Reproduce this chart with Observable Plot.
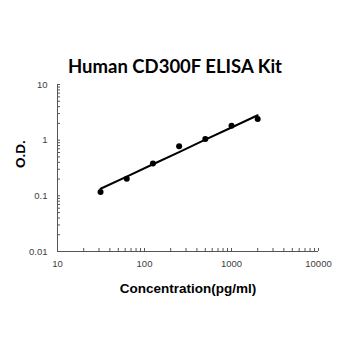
<!DOCTYPE html>
<html><head><meta charset="utf-8">
<script src="https://cdn.jsdelivr.net/npm/d3@7"></script>
<script src="https://cdn.jsdelivr.net/npm/@observablehq/plot@0.6"></script>
<style>
body{margin:0;background:#fff;width:350px;height:350px;overflow:hidden;}
#title{height:78px;box-sizing:border-box;padding-top:55px;text-align:center;font-family:Lato,"Open Sans",sans-serif;font-weight:bold;font-size:18.5px;line-height:22px;color:#000;}
svg{display:block;}
</style></head>
<body>
<div id="title">Human CD300F ELISA Kit</div>
<div id="chart"></div>
<script>
const concentration = [31.25, 62.5, 125, 250, 500, 1000, 2000];
const od = [0.117, 0.202, 0.38, 0.78, 1.05, 1.82, 2.4];
const fitOd = [0.134, 0.222, 0.369, 0.612, 1.02, 1.69, 2.8];
const xMajor = [10, 100, 1000, 10000];
const yMajor = [0.01, 0.1, 1, 10];
const multipliers = [2, 3, 4, 5, 6, 7, 8, 9];
const xMinor = [10, 100, 1000].flatMap(d => multipliers.map(m => d * m));
const yMinor = [0.01, 0.1, 1].flatMap(d => multipliers.map(m => d * m));
const points = concentration.map((c, i) => ({c, od: od[i]}));
const fit = concentration.map((c, i) => ({c, od: fitOd[i]}));

const tickFont = "Liberation Sans, Arial, sans-serif";
const plot = Plot.plot({
  width: 350,
  height: 272,
  marginTop: 6,
  marginBottom: 99,
  marginLeft: 57,
  marginRight: 32,
  style: {fontFamily: tickFont, fontSize: "9.5px", color: "#404040", background: "#fff"},
  x: {type: "log", domain: [10, 10000]},
  y: {type: "log", domain: [0.01, 10]},
  marks: [
    Plot.axisX([...xMajor, ...xMinor], {tickSize: -3, tickFormat: () => "", label: null, stroke: "#555"}),
    Plot.axisX(xMajor, {tickSize: 0, tickPadding: 9, tickFormat: d => String(d), label: null, fill: "#404040"}),
    Plot.axisY([...yMajor, ...yMinor], {tickSize: -3, tickFormat: () => "", label: null, stroke: "#555"}),
    Plot.axisY(yMajor, {tickSize: 0, tickPadding: 10, tickFormat: d => String(d), label: null, fill: "#404040"}),
    Plot.ruleY([0.01], {stroke: "#555"}),
    Plot.ruleX([10], {stroke: "#555"}),
    Plot.line(fit, {x: "c", y: "od", stroke: "#000", strokeWidth: 2}),
    Plot.dot(points, {x: "c", y: "od", r: 3, fill: "#000", stroke: "none"}),
    Plot.text(["Concentration(pg/ml)"], {frameAnchor: "bottom", dy: 41, fontSize: 13.5, fontWeight: "bold", fill: "#000", fontFamily: tickFont}),
    Plot.text(["O.D."], {frameAnchor: "left", dx: -37, rotate: -90, fontSize: 13.5, fontWeight: "bold", fill: "#000", fontFamily: tickFont})
  ]
});
document.getElementById("chart").appendChild(plot);
</script>
</body></html>
